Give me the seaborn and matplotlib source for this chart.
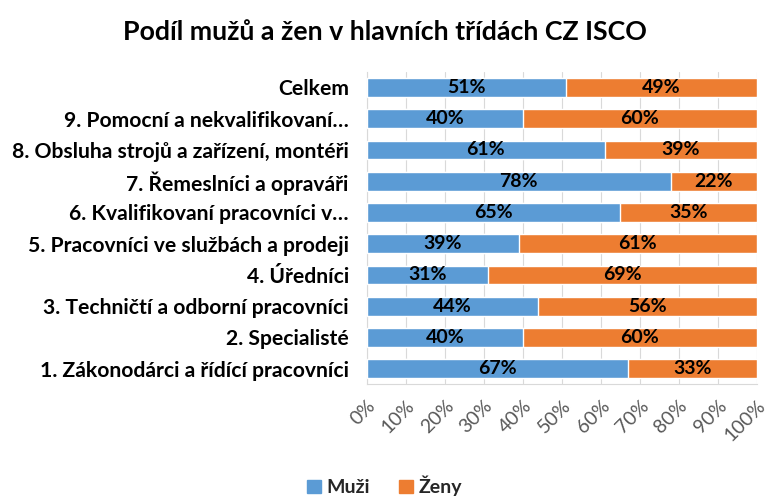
import numpy as np
import pandas as pd
import matplotlib
matplotlib.use('Agg')
import matplotlib.pyplot as plt
import seaborn as sns
from matplotlib.ticker import PercentFormatter
from matplotlib.patches import Patch

categories = ['Celkem',
              '9. Pomocní a nekvalifikovaní…',
              '8. Obsluha strojů a zařízení, montéři',
              '7. Řemeslníci a opraváři',
              '6. Kvalifikovaní pracovníci v…',
              '5. Pracovníci ve službách a prodeji',
              '4. Úředníci',
              '3. Techničtí a odborní pracovníci',
              '2. Specialisté',
              '1. Zákonodárci a řídící pracovníci']
muzi = [51, 40, 61, 78, 65, 39, 31, 44, 40, 67]
zeny = [49, 60, 39, 22, 35, 61, 69, 56, 60, 33]
ticks = list(range(0, 101, 10))

blue = '#5B9BD5'
orange = '#ED7D31'

sns.set_style('white')
plt.rcParams['font.family'] = ['Lato', 'DejaVu Sans']

df = pd.DataFrame({'kategorie': categories, 'Muži': muzi, 'Ženy': zeny})
df['celkem'] = df['Muži'] + df['Ženy']

fig = plt.figure(figsize=(7.69, 4.99), dpi=100)
ax = fig.add_axes([0.477, 0.230, 0.507, 0.626])

# orange full bar behind, blue on top
sns.barplot(data=df, y='kategorie', x='celkem', color=orange, width=0.6,
            saturation=1, ax=ax, zorder=2)
sns.barplot(data=df, y='kategorie', x='Muži', color=blue, width=0.6,
            saturation=1, ax=ax, zorder=3)

for i, (m, z) in enumerate(zip(muzi, zeny)):
    ax.text(m / 2, i, f'{m}%', ha='center', va='center', fontsize=14,
            fontweight='bold', color='black', zorder=4)
    ax.text(m + z / 2, i, f'{z}%', ha='center', va='center', fontsize=14,
            fontweight='bold', color='black', zorder=4)

ax.set_xlim(0, 100)
ax.set_xticks(ticks)
ax.xaxis.set_major_formatter(PercentFormatter(decimals=0))
ax.set_xlabel('')
ax.set_ylabel('')
ax.grid(axis='x', color='#D9D9D9', linewidth=0.8, zorder=0)
ax.set_axisbelow(True)
for s in ['top', 'right']:
    ax.spines[s].set_visible(False)
ax.spines['left'].set_color('#D9D9D9')
ax.spines['bottom'].set_color('#D9D9D9')
ax.tick_params(axis='x', colors='#595959', labelsize=14, length=4,
               color='#D9D9D9', pad=5)
ax.tick_params(axis='y', length=0, labelsize=15.2, pad=13, labelcolor='black')
for lbl in ax.get_yticklabels():
    lbl.set_fontweight('bold')
for lbl in ax.get_xticklabels():
    lbl.set_rotation(45)
    lbl.set_ha('right')
    lbl.set_va('top')
    lbl.set_rotation_mode('anchor')

fig.suptitle('Podíl mužů a žen v hlavních třídách CZ ISCO', fontsize=19.3,
             fontweight='bold', y=0.96, color='black')

handles = [Patch(color=blue, label='Muži'), Patch(color=orange, label='Ženy')]
leg = fig.legend(handles=handles, loc='lower center', ncol=2, frameon=False,
                 bbox_to_anchor=(0.5, -0.03), prop={'size': 14, 'weight': 'bold'},
                 handlelength=0.7, handleheight=0.7, handletextpad=0.3,
                 columnspacing=1.5)

fig.savefig('out.png', dpi=100)
